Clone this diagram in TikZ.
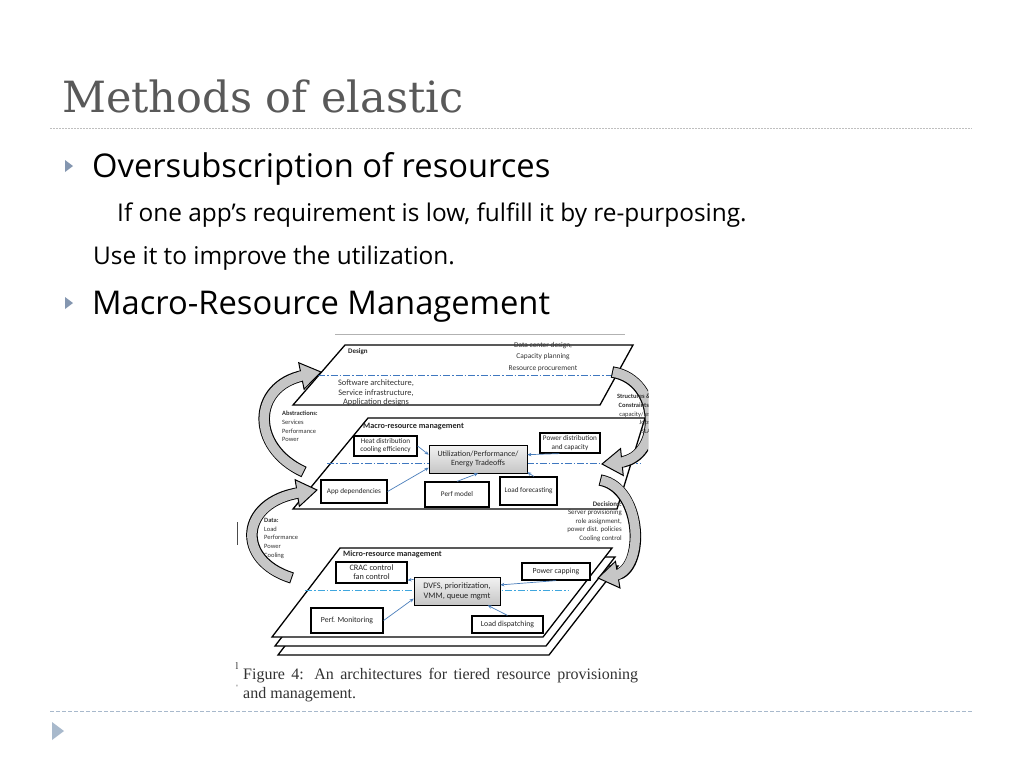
\documentclass[tikz,border=0pt]{standalone}
\usepackage{fontspec}
\setmainfont{Open Sans}
\newfontfamily\capfont{Liberation Serif}
\newfontfamily\titlefont{DejaVu Serif}
\newfontfamily\figfont{Carlito}
\usetikzlibrary{arrows.meta,calc}
\definecolor{titlegray}{HTML}{595959}
\definecolor{bulletblue}{HTML}{8496B0}
\definecolor{linegray}{HTML}{BFBFBF}
\definecolor{bottomline}{HTML}{A8B9CC}
\definecolor{bluedash}{HTML}{3F78C0}
\definecolor{cyandash}{HTML}{3FA6DE}
\definecolor{linkblue}{HTML}{4A7EBB}
\definecolor{arrowgray}{HTML}{C6C6C6}
% curved block arrow: start, control 1, control 2, end (tip)
\newcommand\garrow[4]{%
  \draw[line width=11.5pt, black, shorten >=18pt] #1 .. controls #2 and #3 .. #4;
  \draw[line width=9.5pt, arrowgray, shorten >=17pt, shorten <=1pt] #1 .. controls #2 and #3 .. #4;
  \coordinate (gE) at #4;
  \coordinate (gP) at #3;
  \coordinate (gB) at ($(gE)!20pt!(gP)$);
  \filldraw[fill=arrowgray, draw=black, line width=1pt, line join=miter]
    (gE) -- ($(gB)!13.5pt!90:(gE)$) -- ($(gB)!13.5pt!-90:(gE)$) -- cycle;
  \draw[line width=9.5pt, arrowgray] ($(gE)!22pt!(gP)$) -- ($(gE)!16pt!(gP)$);}
\begin{document}
\begin{tikzpicture}[x=1pt,y=-1pt,
  fbox/.style={draw, line width=1.2pt, fill=white, text=black!85,
    font=\figfont\fontsize{7.2}{8.2}\selectfont, align=center, inner sep=0pt},
  mbox/.style={fbox, font=\figfont\fontsize{7.8}{8.8}\selectfont},
  gbox/.style={draw, line width=0.7pt, top color=gray!10, bottom color=gray!45,
    text=black!85, font=\figfont\fontsize{8}{9.6}\selectfont, align=center, inner sep=0pt},
  barrow/.style={draw=linkblue, line width=0.7pt, -{Stealth[length=4pt,width=3.5pt]}},
  plane/.style={draw, line width=1.3pt, fill=white, line join=miter},
  ftext/.style={text=black!80, inner sep=0pt, align=center},
  flabel/.style={font=\figfont\bfseries\fontsize{8.2}{9}\selectfont, text=black!85, inner sep=0pt, anchor=west},
  side/.style={font=\figfont\fontsize{6.5}{8.7}\selectfont, text=black!80, inner sep=0pt},
  bodytext/.style={anchor=base west, inner sep=0pt, text=black}
]
\useasboundingbox[fill=white] (0,0) rectangle (1024,768);

% ---- slide frame ----
\node[anchor=base west, inner sep=0pt, text=titlegray,
  font=\titlefont\fontsize{43}{43}\selectfont] (title) at (62,112) {Methods of elastic};
\draw[linegray, line width=1pt, dash pattern=on 1.5pt off 1.5pt] (50,128) -- (972,128);

\fill[bulletblue] (65,160) -- (73,166) -- (65,172) -- cycle;
\node[bodytext, font=\fontsize{32.7}{33}\selectfont] (b1) at (92,177) {Oversubscription of resources};
\node[bodytext, font=\fontsize{24.4}{25}\selectfont] (s1) at (117,221) {If one app’s requirement is low, fulfill it by re-purposing.};
\node[bodytext, font=\fontsize{24.4}{25}\selectfont] (s2) at (93,264) {Use it to improve the utilization.};
\fill[bulletblue] (65,297) -- (73,303) -- (65,309) -- cycle;
\node[bodytext, font=\fontsize{32.7}{33}\selectfont] (b2) at (92,314) {Macro-Resource Management};

\draw[bottomline, line width=0.9pt, dash pattern=on 4pt off 2pt] (50,711) -- (972,711);
\fill[bottomline] (52,722) -- (64,731) -- (52,740) -- cycle;

% ---- figure ----
\begin{scope}
\clip (225,330) rectangle (648,705);
\draw[gray!60, line width=0.6pt] (335,334) -- (625,334);

% micro stack
\draw[plane] (346,566) -- (618,566) -- (549,655) -- (278,655) -- cycle;
\draw[plane] (343,557) -- (615,557) -- (546,646) -- (275,646) -- cycle;
\draw[plane] (340,548) -- (612,548) -- (543,637) -- (272,637) -- cycle;
% macro plane
\draw[plane] (368,418) -- (645,418) -- (617,509) -- (293,509) -- cycle;
% design plane
\draw[plane] (345,345) -- (633,345) -- (600,405) -- (293,405) -- cycle;

% dash-dot lines
\draw[bluedash, line width=0.9pt, dash pattern=on 7pt off 2pt on 1.5pt off 2pt] (318,375) -- (612,375);
\draw[bluedash, line width=0.9pt, dash pattern=on 7pt off 2pt on 1.5pt off 2pt] (327,463) -- (640,463);
\draw[cyandash, line width=0.9pt, dash pattern=on 7pt off 2pt on 1.5pt off 2pt] (305,590) -- (568,590);

% design texts
\node[flabel, font=\figfont\bfseries\fontsize{7}{8}\selectfont] (dlab) at (348,352) {Design};
\node[ftext, font=\figfont\fontsize{7.4}{11.5}\selectfont] (dctext) at (543,357) {Data center design,\\Capacity planning\\Resource procurement};
\node[ftext, font=\figfont\fontsize{8.4}{9.7}\selectfont] (swtext) at (376,393) {Software architecture,\\Service infrastructure,\\Application designs};

% macro
\node[flabel] (malab) at (363,427) {Macro-resource management};
\node[fbox, minimum width=63pt, minimum height=20pt] (heat) at (385.5,446) {Heat distribution\\cooling efficiency};
\node[fbox, minimum width=60pt, minimum height=20pt] (powerd) at (570,443) {Power distribution\\and capacity};
\node[gbox, minimum width=98pt, minimum height=28pt] (util) at (478,459) {Utilization/Performance/\\Energy Tradeoffs};
\node[fbox, minimum width=66pt, minimum height=23pt] (appdep) at (354,491.5) {App dependencies};
\node[fbox, minimum width=64pt, minimum height=25pt] (perf) at (457,494.5) {Perf model};
\node[fbox, minimum width=57pt, minimum height=28pt] (loadf) at (528.5,491) {Load forecasting};
\draw[barrow] (heat.east) -- (util.175);
\draw[barrow] (appdep.east) -- (util.190);
\draw[barrow] (perf.north) -- (util.south);
\draw[barrow] (loadf.70) -- (util.-15);
\draw[barrow] (powerd.225) -- (util.5);

% micro
\node[flabel] (milab) at (343,554) {Micro-resource management};
\node[mbox, minimum width=71pt, minimum height=21pt, font=\figfont\fontsize{8.3}{9}\selectfont] (crac) at (371.5,572.5) {CRAC control\\fan control};
\node[gbox, minimum width=86pt, minimum height=28pt, font=\figfont\fontsize{8.4}{10}\selectfont] (dvfs) at (457,591) {DVFS, prioritization,\\VMM, queue mgmt};
\node[mbox, minimum width=68pt, minimum height=17pt] (pcap) at (556,571.5) {Power capping};
\node[mbox, minimum width=72pt, minimum height=25pt] (pmon) at (347,620.5) {Perf. Monitoring};
\node[mbox, minimum width=71pt, minimum height=17pt] (ldisp) at (507.5,624.5) {Load dispatching};
\draw[barrow] (dvfs.165) -- (crac.-12);
\draw[barrow] (pmon.east) -- (dvfs.190);
\draw[barrow] (pcap.south) -- (dvfs.8);
\draw[barrow] (ldisp.north) -- (dvfs.-25);

% left side texts
\node[side, anchor=north west, align=left] (abstr) at (282,411) {\textbf{Abstractions:}\\Services\\Performance\\Power};
\node[side, anchor=north west, align=left] (data) at (264,518) {\textbf{Data:}\\Load\\Performance\\Power\\Cooling};

% curved block arrows
\garrow{(304,472)}{(250,447)}{(252,386)}{(321,372)}
\garrow{(292,578)}{(235,560)}{(240,502)}{(317,490)}
\garrow{(612,372)}{(662,380)}{(662,458)}{(602,464)}
\garrow{(600,480)}{(643,488)}{(645,570)}{(598,578)}

% right side texts (printed over the arrows)
\node[side, anchor=north east, align=right] (struct) at (651,394) {\textbf{Structures \&}\\\textbf{Constraints:}\\capacity/ies\\Jobs\\SLA};
\node[side, anchor=north east, align=right, font=\figfont\fontsize{6.9}{8.5}\selectfont] (decis) at (622,501) {\textbf{Decisions:}\\Server provisioning\\role assignment,\\power dist. policies\\Cooling control};

% cropped fragments at the left edge
\draw[black!70, line width=0.8pt] (237,522) -- (237,545);
\node[inner sep=0pt, font=\capfont\fontsize{10}{10}\selectfont, text=black!80] (frag1) at (237,666) {l};
\node[inner sep=0pt, font=\capfont\fontsize{8}{8}\selectfont, text=black!80] (frag2) at (237,688) {'};

% caption
\node[anchor=base west, inner sep=0pt, text=black!80, font=\capfont\fontsize{16}{16}\selectfont] (cap1) at (243,679)
  {\makebox[395pt][s]{Figure 4: An architectures for tiered resource provisioning}};
\node[anchor=base west, inner sep=0pt, text=black!80, font=\capfont\fontsize{16}{16}\selectfont] (cap2) at (243,698) {and management.};
\end{scope}
\end{tikzpicture}
\end{document}
